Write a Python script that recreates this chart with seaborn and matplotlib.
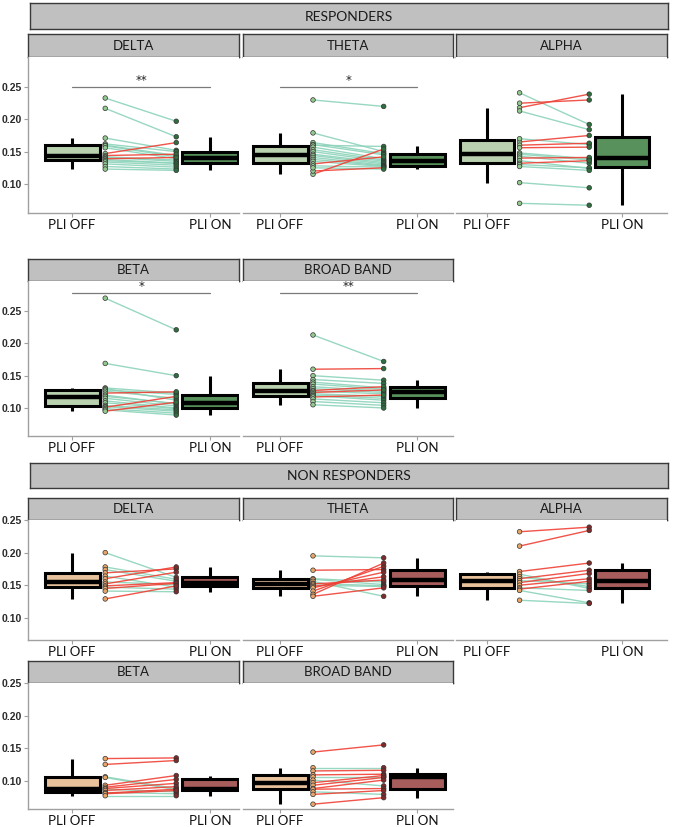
import matplotlib
matplotlib.use("Agg")
import matplotlib.pyplot as plt
import pandas as pd
import seaborn as sns

sns.set_style("white")
plt.rcParams["font.family"] = ["Lato", "DejaVu Sans"]

GROUPS = ["RESPONDERS", "NON RESPONDERS"]
BANDS = ["DELTA", "THETA", "ALPHA", "BETA", "BROAD BAND"]
CONDITIONS = ["PLI OFF", "PLI ON"]

# paired PLI per subject (OFF value, ON value)
resp_delta_off = [0.233, 0.217, 0.171, 0.162, 0.160, 0.159, 0.156, 0.147, 0.144,
                  0.142, 0.141, 0.139, 0.138, 0.136, 0.134, 0.131, 0.127, 0.123]
resp_delta_on = [0.197, 0.173, 0.152, 0.150, 0.144, 0.142, 0.139, 0.164, 0.146,
                 0.137, 0.135, 0.141, 0.132, 0.132, 0.129, 0.126, 0.123, 0.121]
resp_theta_off = [0.230, 0.179, 0.164, 0.161, 0.160, 0.157, 0.153, 0.150, 0.146,
                  0.144, 0.141, 0.138, 0.135, 0.131, 0.128, 0.115, 0.120, 0.125]
resp_theta_on = [0.220, 0.150, 0.147, 0.145, 0.158, 0.139, 0.137, 0.135, 0.133,
                 0.131, 0.129, 0.128, 0.127, 0.142, 0.126, 0.154, 0.125, 0.123]
resp_alpha_off = [0.241, 0.225, 0.218, 0.213, 0.165, 0.170, 0.160, 0.156, 0.148,
                  0.146, 0.143, 0.140, 0.136, 0.132, 0.130, 0.127, 0.102, 0.070]
resp_alpha_on = [0.192, 0.230, 0.239, 0.184, 0.175, 0.161, 0.163, 0.157, 0.139,
                 0.137, 0.132, 0.141, 0.124, 0.136, 0.125, 0.121, 0.094, 0.067]
resp_beta_off = [0.270, 0.169, 0.131, 0.130, 0.128, 0.126, 0.123, 0.120, 0.118,
                 0.115, 0.111, 0.108, 0.104, 0.102, 0.101, 0.099, 0.097, 0.095]
resp_beta_on = [0.221, 0.150, 0.123, 0.112, 0.121, 0.115, 0.125, 0.106, 0.107,
                0.103, 0.100, 0.099, 0.097, 0.095, 0.118, 0.092, 0.089, 0.109]
resp_broad_off = [0.213, 0.160, 0.150, 0.144, 0.140, 0.137, 0.133, 0.130, 0.127,
                  0.126, 0.124, 0.122, 0.120, 0.119, 0.117, 0.114, 0.110, 0.105]
resp_broad_on = [0.172, 0.161, 0.143, 0.138, 0.131, 0.129, 0.126, 0.124, 0.133,
                 0.122, 0.128, 0.118, 0.115, 0.112, 0.120, 0.108, 0.104, 0.100]

nonresp_delta_off = [0.200, 0.178, 0.174, 0.169, 0.164, 0.160, 0.155, 0.152, 0.149,
                     0.147, 0.145, 0.141, 0.129]
nonresp_delta_on = [0.162, 0.159, 0.156, 0.175, 0.147, 0.178, 0.151, 0.170, 0.154,
                    0.144, 0.153, 0.140, 0.149]
nonresp_theta_off = [0.195, 0.173, 0.160, 0.159, 0.156, 0.153, 0.152, 0.150, 0.148,
                     0.146, 0.141, 0.136, 0.133]
nonresp_theta_on = [0.192, 0.174, 0.155, 0.151, 0.133, 0.149, 0.158, 0.148, 0.163,
                    0.170, 0.179, 0.184, 0.146]
nonresp_alpha_off = [0.232, 0.210, 0.171, 0.167, 0.163, 0.160, 0.157, 0.154, 0.150,
                     0.146, 0.144, 0.142, 0.127]
nonresp_alpha_on = [0.239, 0.234, 0.184, 0.145, 0.148, 0.173, 0.152, 0.168, 0.160,
                    0.142, 0.156, 0.123, 0.122]
nonresp_beta_off = [0.134, 0.125, 0.106, 0.105, 0.093, 0.090, 0.088, 0.087, 0.085,
                    0.082, 0.081, 0.080, 0.077]
nonresp_beta_on = [0.135, 0.131, 0.088, 0.086, 0.108, 0.102, 0.096, 0.083, 0.091,
                   0.080, 0.087, 0.085, 0.077]
nonresp_broad_off = [0.144, 0.120, 0.115, 0.109, 0.106, 0.101, 0.097, 0.093, 0.088,
                     0.087, 0.083, 0.079, 0.064]
nonresp_broad_on = [0.155, 0.120, 0.116, 0.110, 0.106, 0.092, 0.108, 0.105, 0.101,
                    0.088, 0.079, 0.085, 0.074]

DATA = {
    "RESPONDERS": {
        "DELTA": (resp_delta_off, resp_delta_on),
        "THETA": (resp_theta_off, resp_theta_on),
        "ALPHA": (resp_alpha_off, resp_alpha_on),
        "BETA": (resp_beta_off, resp_beta_on),
        "BROAD BAND": (resp_broad_off, resp_broad_on),
    },
    "NON RESPONDERS": {
        "DELTA": (nonresp_delta_off, nonresp_delta_on),
        "THETA": (nonresp_theta_off, nonresp_theta_on),
        "ALPHA": (nonresp_alpha_off, nonresp_alpha_on),
        "BETA": (nonresp_beta_off, nonresp_beta_on),
        "BROAD BAND": (nonresp_broad_off, nonresp_broad_on),
    },
}
SIGNIF = {"RESPONDERS": {"DELTA": "**", "THETA": "*", "BETA": "*", "BROAD BAND": "**"}}

BOX_COLORS = {"RESPONDERS": ["#b7d7a8", "#4f9a52"],
              "NON RESPONDERS": ["#f6c28f", "#b4514f"]}
POINT_COLORS = {"RESPONDERS": ["#93c98f", "#2f6e3d"],
                "NON RESPONDERS": ["#e9a468", "#7d2b2b"]}
LINE_COLORS = {"down": "#8dd3ba", "up": "#ef4136"}

# ---- layout in pixels (678 x 827 canvas) ----
W, H = 678, 827
COLS_X = [(28, 239), (243, 453), (456, 667)]
XLIMS = [(-0.32, 1.21), (-0.27, 1.26), (-0.23, 1.33)]
PAIR_X = [0.24, 0.755]
# header (y0, y1); rows: strip top, axes top, axes bottom, ylim
LAYOUT = {
    "RESPONDERS": {"header": (3, 29),
                   "rows": [(34, 57, 213, (0.055, 0.2965)),
                            (259, 281, 436, (0.0566, 0.2966))],
                   "sig_y": [0.25, 0.2774]},
    "NON RESPONDERS": {"header": (463, 488),
                       "rows": [(498, 520, 640, (0.066, 0.25)),
                                (661, 683, 809, (0.0566, 0.25))],
                       "sig_y": [None, None]},
}


def fig_rect(x0, y0, x1, y1):
    return [x0 / W, 1 - y1 / H, (x1 - x0) / W, (y1 - y0) / H]


def strip(fig, x0, y0, x1, y1, label, size):
    ax = fig.add_axes(fig_rect(x0, y0, x1, y1))
    ax.set_facecolor("#c0c0c0")
    ax.set_xticks([])
    ax.set_yticks([])
    for s in ax.spines.values():
        s.set_color("#3a3a3a")
        s.set_linewidth(1.0)
    ax.text(0.5, 0.48, label, ha="center", va="center", fontsize=size,
            color="#1a1a1a", transform=ax.transAxes)


def panel(ax, group, band, col, ylim, sig_y):
    off, on = DATA[group][band]
    n = len(off)
    long = pd.DataFrame({"cond": [CONDITIONS[0]] * n + [CONDITIONS[1]] * n,
                         "value": list(off) + list(on)})
    sns.boxplot(data=long, x="cond", y="value", hue="cond", order=CONDITIONS,
                hue_order=CONDITIONS, palette=BOX_COLORS[group], width=0.4,
                showfliers=False, showcaps=False, linewidth=2.2, linecolor="black",
                medianprops=dict(linewidth=3.2), legend=False, ax=ax)

    pairs = pd.DataFrame({
        "subj": list(range(n)) * 2,
        "xpos": [PAIR_X[0]] * n + [PAIR_X[1]] * n,
        "cond": [CONDITIONS[0]] * n + [CONDITIONS[1]] * n,
        "value": list(off) + list(on),
        "dir": ["up" if b > a else "down" for a, b in zip(off, on)] * 2,
    })
    sns.lineplot(data=pairs, x="xpos", y="value", units="subj", estimator=None,
                 hue="dir", hue_order=["down", "up"], palette=LINE_COLORS,
                 linewidth=1.0, alpha=0.9, sort=False, legend=False, ax=ax)
    sns.scatterplot(data=pairs, x="xpos", y="value", hue="cond",
                    hue_order=CONDITIONS, palette=POINT_COLORS[group], s=11,
                    edgecolor="#333333", linewidth=0.5, legend=False, zorder=4, ax=ax)

    mark = SIGNIF.get(group, {}).get(band)
    if mark and sig_y is not None:
        ax.plot([0, 1], [sig_y, sig_y], color="#7a7a7a", lw=0.9)
        ax.text(0.5, sig_y + 0.0005, mark, ha="center", va="bottom", fontsize=8.5,
                color="#222222", family=["DejaVu Sans"])

    ax.set_xlim(*XLIMS[col])
    ax.set_ylim(*ylim)
    ax.set_xticks([0, 1])
    ax.set_xticklabels(CONDITIONS)
    ax.set_yticks([0.10, 0.15, 0.20, 0.25])
    ax.set_yticklabels(["0.10", "0.15", "0.20", "0.25"])
    ax.set_xlabel("")
    ax.set_ylabel("")
    for s in ["top", "right"]:
        ax.spines[s].set_visible(False)
    for s in ["left", "bottom"]:
        ax.spines[s].set_color("#a0a0a0")
        ax.spines[s].set_linewidth(1.0)
    ax.tick_params(axis="x", length=3, color="#a0a0a0", labelsize=9.5, pad=1.5,
                   labelcolor="#111111", bottom=True)
    ax.tick_params(axis="y", length=3, color="#a0a0a0", labelsize=7.5, pad=1.5,
                   labelcolor="#2a2a2a", left=True)
    for lab in ax.get_yticklabels():
        lab.set_family(["Liberation Sans", "DejaVu Sans"])
        lab.set_fontweight("bold")
    if col > 0:
        ax.spines["left"].set_visible(False)
        ax.tick_params(axis="y", left=False, labelleft=False)


fig = plt.figure(figsize=(W / 100, H / 100), dpi=100)

for group in GROUPS:
    lay = LAYOUT[group]
    strip(fig, 30, lay["header"][0], 668, lay["header"][1], group, 10)
    band_rows = [BANDS[:3], BANDS[3:]]
    for r, bands in enumerate(band_rows):
        s_top, a_top, a_bot, ylim = lay["rows"][r]
        for c, band in enumerate(bands):
            x0, x1 = COLS_X[c]
            strip(fig, x0, s_top, x1, a_top, band, 9.5)
            ax = fig.add_axes(fig_rect(x0, a_top, x1, a_bot))
            panel(ax, group, band, c, ylim, lay["sig_y"][r])

fig.savefig("out.png", dpi=100, facecolor="white")
